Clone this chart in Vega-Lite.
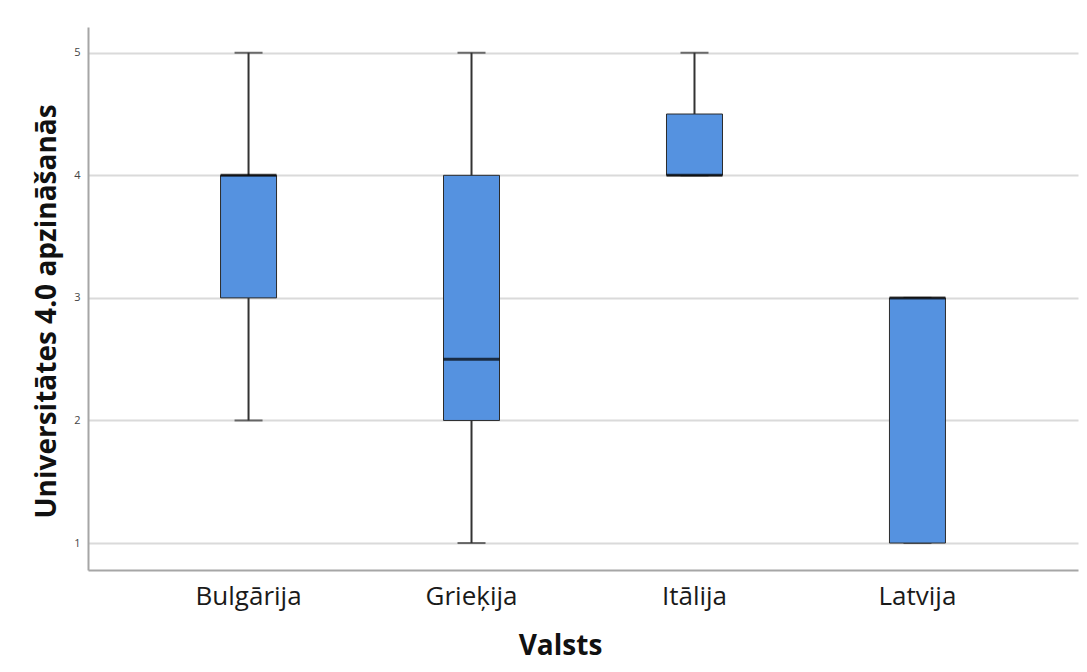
{
  "$schema": "https://vega.github.io/schema/vega-lite/v6.json",
  "width": 990,
  "height": 543,
  "autosize": {"type": "none"},
  "padding": {"left": 88, "top": 27, "right": 9, "bottom": 102},
  "background": "white",
  "config": {
    "view": {"stroke": null},
    "font": "Open Sans"
  },
  "data": {
    "values": [
      {"Valsts": "Bulgārija", "min": 2, "q1": 3, "median": 4, "q3": 4, "max": 5},
      {"Valsts": "Grieķija", "min": 1, "q1": 2, "median": 2.5, "q3": 4, "max": 5},
      {"Valsts": "Itālija", "min": 4, "q1": 4, "median": 4, "q3": 4.5, "max": 5},
      {"Valsts": "Latvija", "min": 1, "q1": 1, "median": 3, "q3": 3, "max": 3}
    ]
  },
  "encoding": {
    "x": {
      "field": "Valsts",
      "type": "nominal",
      "sort": null,
      "scale": {"type": "band", "paddingInner": 0, "paddingOuter": 0.22},
      "axis": {
        "title": "Valsts",
        "labelAngle": 0,
        "labelFont": "Open Sans",
        "labelFontSize": 26,
        "labelColor": "#1a1a1a",
        "labelPadding": 13,
        "ticks": false,
        "grid": false,
        "domainColor": "#a6a6a6",
        "domainWidth": 2,
        "titleFont": "Open Sans",
        "titleFontSize": 28,
        "titleFontWeight": "bold",
        "titleColor": "#111111",
        "titleX": 472,
        "titleY": 76,
        "titleAlign": "center",
        "titleBaseline": "middle"
      }
    }
  },
  "layer": [
    {
      "mark": {"type": "rule", "color": "#333333", "strokeWidth": 2},
      "encoding": {
        "y": {
          "field": "min",
          "type": "quantitative",
          "scale": {"domain": [0.78, 5.21], "nice": false, "zero": false},
          "axis": {
            "title": "Universitātes 4.0 apzināšanās",
            "values": [1, 2, 3, 4, 5],
            "format": "d",
            "labelFont": "Open Sans",
            "labelFontSize": 11,
            "labelColor": "#444444",
            "labelPadding": 8,
            "ticks": false,
            "grid": true,
            "gridColor": "#dadada",
            "gridWidth": 2,
            "domainColor": "#a6a6a6",
            "domainWidth": 2,
            "titleFont": "Open Sans",
            "titleFontSize": 28,
            "titleFontWeight": "bold",
            "titleColor": "#111111",
            "titleAngle": -90,
            "titleX": -41,
            "titleY": 284,
            "titleAlign": "center",
            "titleBaseline": "middle"
          }
        },
        "y2": {"field": "max"}
      }
    },
    {
      "mark": {"type": "tick", "color": "#333333", "thickness": 2, "size": 28, "orient": "horizontal"},
      "encoding": {"y": {"field": "min", "type": "quantitative"}}
    },
    {
      "mark": {"type": "tick", "color": "#333333", "thickness": 2, "size": 28, "orient": "horizontal"},
      "encoding": {"y": {"field": "max", "type": "quantitative"}}
    },
    {
      "mark": {"type": "bar", "size": 56, "fill": "#5592e0", "stroke": "#2b2b2b", "strokeWidth": 1},
      "encoding": {
        "y": {"field": "q1", "type": "quantitative"},
        "y2": {"field": "q3"}
      }
    },
    {
      "mark": {"type": "tick", "color": "#000000", "thickness": 3, "size": 56, "orient": "horizontal"},
      "encoding": {"y": {"field": "median", "type": "quantitative"}}
    }
  ]
}
